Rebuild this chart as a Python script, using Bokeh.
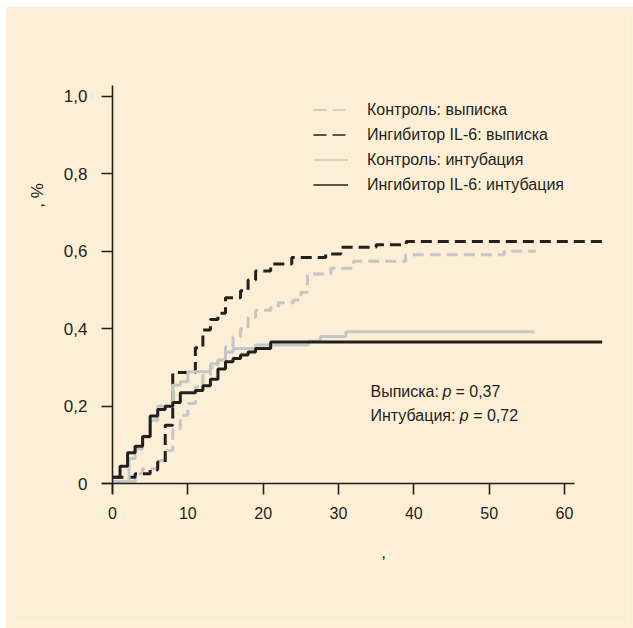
from bokeh.plotting import figure
from bokeh.models import (Range1d, FixedTicker, Legend, LegendItem, Label, Spacer, ColumnDataSource)
from bokeh.layouts import row, column
from bokeh.embed import file_html
from bokeh.resources import INLINE

# ---------------- data ----------------
ctrl_disch_t = [0, 3, 4, 6, 7, 8, 9, 10, 11, 12, 13, 14, 15, 16, 17, 18, 19, 21, 22, 24, 25, 25.9, 29, 32, 38.9, 52, 56.2]
ctrl_disch_y = [0.006, 0.026, 0.039, 0.06, 0.086, 0.142, 0.177, 0.207, 0.25, 0.28, 0.3, 0.319, 0.353, 0.379, 0.40, 0.43, 0.448, 0.455, 0.467, 0.474, 0.494, 0.541, 0.556, 0.574, 0.591, 0.6, 0.6]

inh_disch_t = [0, 3, 5, 6, 7, 8, 11, 12, 13, 14, 15, 17, 18, 19, 21, 23.8, 28.3, 30.3, 35, 39, 65]
inh_disch_y = [0.017, 0.026, 0.036, 0.056, 0.151, 0.287, 0.351, 0.397, 0.424, 0.44, 0.48, 0.498, 0.526, 0.549, 0.567, 0.584, 0.593, 0.61, 0.617, 0.625, 0.625]

ctrl_intub_t = [0, 2.2, 3, 4, 5, 6, 8, 9, 10, 13, 14, 15, 16, 19, 26, 27.6, 31, 56]
ctrl_intub_y = [0.006, 0.065, 0.09, 0.12, 0.164, 0.2, 0.254, 0.263, 0.289, 0.31, 0.32, 0.34, 0.349, 0.358, 0.368, 0.38, 0.392, 0.392]

inh_intub_t = [0, 1, 2, 3, 4, 5, 6, 7, 8, 9, 11, 12, 13, 14, 15, 16, 17, 18, 19, 21, 65]
inh_intub_y = [0.017, 0.045, 0.08, 0.097, 0.122, 0.175, 0.192, 0.2, 0.21, 0.235, 0.241, 0.253, 0.27, 0.296, 0.315, 0.323, 0.332, 0.34, 0.349, 0.366, 0.366]

x_ticks = [0, 10, 20, 30, 40, 50, 60]
y_ticks = [0, 0.2, 0.4, 0.6, 0.8, 1.0]
y_tick_labels = ["0", "0,2", "0,4", "0,6", "0,8", "1,0"]

series_labels = ["Контроль: выписка", "Ингибитор IL-6: выписка",
                 "Контроль: интубация", "Ингибитор IL-6: интубация"]
y_axis_title = ", %"
x_axis_title = ","
note_lines = [("Выписка:", "p", "= 0,37"), ("Интубация:", "p", "= 0,72")]

# ---------------- style ----------------
BG = "#FDEFD5"
DARK = "#231F20"
GRAY = "#C4C6C8"
FONT = "Liberation Sans"

p = figure(width=628, height=622, output_backend="svg", toolbar_location=None,
           x_range=Range1d(-13.54, 68.50), y_range=Range1d(-0.3604, 1.2185),
           min_border_left=5, min_border_right=5, min_border_top=5, min_border_bottom=5)
p.background_fill_color = BG
p.border_fill_color = BG
p.outline_line_color = None
p.grid.visible = False

# axes crossing at origin
xa = p.xaxis[0]
ya = p.yaxis[0]
xa.fixed_location = 0
ya.fixed_location = 0
xa.bounds = (-1.33, 61.33)
ya.bounds = (-0.025, 1.028)
xa.ticker = FixedTicker(ticks=x_ticks)
ya.ticker = FixedTicker(ticks=y_ticks)
ya.major_label_overrides = {t: l for t, l in zip(y_ticks, y_tick_labels)}
for ax in (xa, ya):
    ax.axis_line_color = DARK
    ax.axis_line_width = 1.6
    ax.major_tick_line_color = DARK
    ax.major_tick_line_width = 1.6
    ax.major_tick_out = 11
    ax.major_tick_in = 0
    ax.minor_tick_line_color = None
    ax.major_label_text_color = DARK
    ax.major_label_text_font = FONT
xa.major_label_text_font_size = "16px"
xa.major_label_standoff = 12
ya.major_label_text_font_size = "17px"
ya.major_label_standoff = 14

# curves
r1 = p.step(ctrl_disch_t, ctrl_disch_y, mode="after", line_color=GRAY, line_width=3, line_dash="11 6")
r2 = p.step(inh_disch_t, inh_disch_y, mode="after", line_color=DARK, line_width=3, line_dash="11 6")
r3 = p.step(ctrl_intub_t, ctrl_intub_y, mode="after", line_color=GRAY, line_width=3)
r4 = p.step(inh_intub_t, inh_intub_y, mode="after", line_color=DARK, line_width=3)

# thin legend-only proxies (no visible data)
nan = float("nan")
def proxy(color, dash):
    src = ColumnDataSource(dict(x=[nan, nan], y=[nan, nan]))
    return p.line(x="x", y="y", source=src, line_color=color, line_width=1.5, line_dash=dash)
l1 = proxy(GRAY, "13 6")
l2 = proxy(DARK, "13 6")
l3 = proxy(GRAY, "solid")
l4 = proxy(DARK, "solid")

legend = Legend(items=[LegendItem(label=lab, renderers=[r]) for lab, r in zip(series_labels, [l1, l2, l3, l4])],
                location=(303, 426), padding=0, spacing=0, margin=0,
                glyph_width=35, glyph_height=25, label_height=25, label_standoff=19,
                label_text_font=FONT, label_text_font_size="16px", label_text_color=DARK,
                background_fill_alpha=0, border_line_color=None)
p.add_layout(legend)

# axis titles
p.add_layout(Label(x=-9.96, y=0.744, text=y_axis_title, angle=1.5708, text_font=FONT,
                   text_font_size="17px", text_color=DARK, text_align="center", text_baseline="middle"))
p.add_layout(Label(x=36.0, y=-0.175, text=x_axis_title, text_font=FONT,
                   text_font_size="17px", text_color=DARK, text_align="center", text_baseline="middle"))

# p-value notes
note_y = [0.238, 0.176]
note_x = [(34.25, 43.81, 45.53), (34.25, 46.1, 47.88)]
for (a, b, c), yy, (xa0, xb, xc) in zip(note_lines, note_y, note_x):
    for txt, xx, style in ((a, xa0, "normal"), (b, xb, "italic"), (c, xc, "normal")):
        p.add_layout(Label(x=xx, y=yy, text=txt, text_font=FONT, text_font_size="16px",
                           text_font_style=style, text_color=DARK, text_baseline="middle"))

layout = row(Spacer(width=5, height=628), column(Spacer(width=628, height=6), p))
open("out.html", "w").write(file_html(layout, INLINE))
